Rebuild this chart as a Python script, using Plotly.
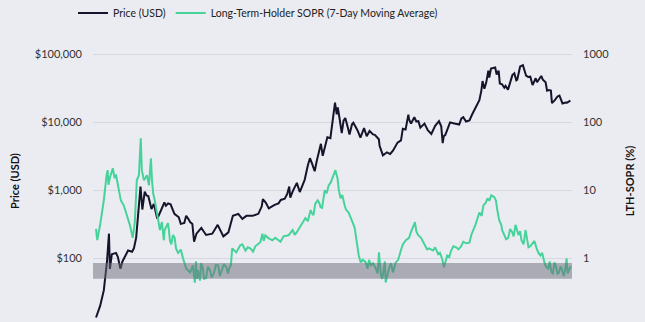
import plotly.graph_objects as go

# Bitcoin price (USD), grouped by year
price_dates = [
    "2013-01-01", "2013-02-01", "2013-03-01", "2013-03-25", "2013-04-09", "2013-04-16",
    "2013-05-01", "2013-06-01", "2013-06-15", "2013-07-05", "2013-07-20", "2013-08-01",
    "2013-09-01", "2013-10-01", "2013-10-15", "2013-11-01", "2013-11-10", "2013-11-18",
    "2013-12-04", "2013-12-18",
    "2014-01-05", "2014-01-20", "2014-02-01", "2014-02-25", "2014-03-15", "2014-04-10",
    "2014-04-25", "2014-05-01", "2014-06-03", "2014-06-15", "2014-07-01", "2014-07-20",
    "2014-08-18", "2014-09-20", "2014-10-05", "2014-11-01", "2014-11-15", "2014-12-01",
    "2014-12-15",
    "2015-01-01", "2015-01-14", "2015-02-01", "2015-03-10", "2015-04-15", "2015-06-01",
    "2015-07-12", "2015-08-24", "2015-10-01", "2015-11-04", "2015-12-15",
    "2016-01-15", "2016-02-15", "2016-04-01", "2016-05-15", "2016-06-10", "2016-06-18",
    "2016-07-10", "2016-08-02", "2016-09-15", "2016-10-15", "2016-11-01", "2016-12-01",
    "2016-12-20",
    "2017-01-04", "2017-01-12", "2017-02-01", "2017-03-03", "2017-03-25", "2017-04-15",
    "2017-05-01", "2017-05-25", "2017-06-10", "2017-06-25", "2017-07-16", "2017-08-01",
    "2017-08-20", "2017-09-01", "2017-09-15", "2017-10-01", "2017-10-20", "2017-11-12",
    "2017-11-28", "2017-12-08", "2017-12-17", "2017-12-30",
    "2018-01-07", "2018-01-20", "2018-02-06", "2018-02-20", "2018-03-05", "2018-03-25",
    "2018-04-06", "2018-04-25", "2018-05-05", "2018-06-05", "2018-06-28", "2018-07-25",
    "2018-08-01", "2018-08-14", "2018-09-05", "2018-10-01", "2018-10-15", "2018-11-14",
    "2018-11-20", "2018-12-15",
    "2019-01-15", "2019-02-08", "2019-03-01", "2019-04-05", "2019-05-01", "2019-05-15",
    "2019-06-05", "2019-06-26", "2019-07-01", "2019-07-16", "2019-08-10", "2019-08-25",
    "2019-09-10", "2019-09-25", "2019-10-26", "2019-11-20", "2019-12-17",
    "2020-01-15", "2020-02-13", "2020-03-01", "2020-03-12", "2020-03-20", "2020-04-01",
    "2020-05-07", "2020-06-01", "2020-06-15", "2020-07-15", "2020-08-01", "2020-08-15",
    "2020-09-05", "2020-10-01", "2020-10-20", "2020-11-15", "2020-11-25", "2020-12-15",
    "2020-12-30",
    "2021-01-08", "2021-01-22", "2021-02-05", "2021-02-21", "2021-02-28", "2021-03-13",
    "2021-04-14", "2021-04-25", "2021-05-10", "2021-05-19", "2021-06-05", "2021-06-22",
    "2021-07-01", "2021-07-20", "2021-08-05", "2021-08-22", "2021-09-06", "2021-09-21",
    "2021-09-28", "2021-10-05", "2021-10-20", "2021-11-10", "2021-11-25", "2021-12-04",
    "2021-12-20",
    "2022-01-05", "2022-01-22", "2022-02-15", "2022-02-25", "2022-03-29", "2022-04-10",
    "2022-05-01", "2022-05-12", "2022-05-25", "2022-06-10", "2022-06-18", "2022-07-10",
    "2022-07-30", "2022-08-14", "2022-08-25", "2022-09-06", "2022-09-30", "2022-10-10",
    "2022-11-05",
]
price_usd = [
    13.5, 20, 34, 90, 230, 70,
    115, 120, 105, 70, 90, 100,
    130, 125, 140, 200, 320, 500,
    1130, 520,
    950, 830, 820, 530, 630, 380,
    440, 450, 660, 590, 640, 620,
    450, 400, 320, 330, 420, 380,
    340,
    320, 175, 230, 280, 220, 230,
    310, 210, 240, 420, 450,
    380, 420, 420, 450, 580, 740,
    660, 540, 610, 640, 720, 750,
    880,
    1130, 780, 980, 1280, 940, 1180,
    1420, 2300, 2950, 2500, 1900, 2700,
    4100, 4800, 3200, 4300, 6000, 5800,
    9800, 15000, 19300, 13000,
    16500, 11500, 6900, 10500, 11500, 8200,
    6600, 9300, 9800, 7600, 5900, 8200,
    7600, 6200, 7400, 6600, 6500, 5600,
    4500, 3250,
    3600, 3400, 3800, 5000, 5400, 8000,
    7800, 12900, 11000, 9500, 11800, 10200,
    10300, 8300, 9500, 7600, 6700,
    8800, 10300, 8700, 4900, 6200, 6500,
    9900, 9600, 9400, 9200, 11300, 11800,
    10200, 10600, 12800, 16000, 18000, 21000,
    29000,
    40000, 31000, 38000, 57000, 45000, 61000,
    63500, 50000, 57000, 37000, 36000, 32000,
    34000, 30000, 39500, 49000, 52000, 41000,
    42000, 50000, 65500, 68500, 57000, 48000,
    46000,
    46500, 35000, 44000, 38500, 47500, 42000,
    38500, 29000, 29500, 29000, 19000, 21000,
    23800, 24500, 21500, 18800, 19400, 19300,
    20600,
]

# Long-term-holder SOPR, 7-day moving average, grouped by year
sopr_dates = [
    "2013-01-01", "2013-01-10", "2013-02-01", "2013-03-01", "2013-03-22", "2013-03-30",
    "2013-04-05", "2013-04-15", "2013-05-08", "2013-05-22", "2013-06-01", "2013-06-15",
    "2013-06-25", "2013-07-08", "2013-07-30", "2013-08-22", "2013-09-14", "2013-10-06",
    "2013-10-22", "2013-11-06", "2013-11-22", "2013-12-06", "2013-12-14", "2013-12-30",
    "2014-01-22", "2014-02-06", "2014-02-21", "2014-03-01", "2014-03-10", "2014-03-22",
    "2014-04-05", "2014-04-15", "2014-04-30", "2014-05-15", "2014-05-30", "2014-06-05",
    "2014-06-22", "2014-07-01", "2014-07-15", "2014-07-25", "2014-08-07", "2014-08-20",
    "2014-08-30", "2014-09-15", "2014-09-30", "2014-10-05", "2014-10-22", "2014-11-15",
    "2014-12-15",
    "2015-01-05", "2015-01-12", "2015-01-20", "2015-01-28", "2015-02-05", "2015-02-12",
    "2015-02-28", "2015-03-08", "2015-03-22", "2015-03-30", "2015-04-15", "2015-04-28",
    "2015-05-15", "2015-05-28", "2015-06-15", "2015-06-28", "2015-07-15", "2015-07-28",
    "2015-08-15", "2015-08-28", "2015-09-15", "2015-09-28", "2015-10-07", "2015-10-20",
    "2015-10-30", "2015-11-30", "2015-12-30",
    "2016-01-15", "2016-02-07", "2016-02-25", "2016-03-15", "2016-04-05", "2016-04-22",
    "2016-05-10", "2016-05-30", "2016-06-15", "2016-06-25", "2016-07-07", "2016-07-30",
    "2016-08-30", "2016-09-20", "2016-10-15", "2016-10-30", "2016-11-22", "2016-12-30",
    "2017-01-30", "2017-02-15", "2017-03-01", "2017-03-30", "2017-04-15", "2017-05-07",
    "2017-05-25", "2017-06-15", "2017-06-25", "2017-07-07", "2017-07-20", "2017-08-07",
    "2017-08-20", "2017-08-30", "2017-09-10", "2017-09-30", "2017-10-15", "2017-10-30",
    "2017-11-15", "2017-11-30", "2017-12-20",
    "2018-01-05", "2018-01-15", "2018-01-28", "2018-02-10", "2018-02-28", "2018-03-10",
    "2018-03-30", "2018-04-10", "2018-04-22", "2018-05-01", "2018-05-15", "2018-05-25",
    "2018-06-07", "2018-06-15", "2018-06-30", "2018-07-15", "2018-08-07", "2018-08-20",
    "2018-09-01", "2018-09-15", "2018-10-01", "2018-10-22", "2018-11-05", "2018-11-15",
    "2018-11-20", "2018-11-30", "2018-12-10", "2018-12-22", "2018-12-30",
    "2019-01-05", "2019-01-20", "2019-01-30", "2019-02-15", "2019-03-01", "2019-03-22",
    "2019-04-10", "2019-04-30", "2019-05-15", "2019-06-07", "2019-07-01", "2019-07-15",
    "2019-07-30", "2019-08-15", "2019-08-25", "2019-09-07", "2019-09-30", "2019-10-15",
    "2019-10-30", "2019-11-15", "2019-11-30", "2019-12-30",
    "2020-01-15", "2020-02-07", "2020-02-20", "2020-03-07", "2020-03-22", "2020-04-15",
    "2020-05-01", "2020-05-15", "2020-06-01", "2020-06-22", "2020-07-10", "2020-07-30",
    "2020-08-15", "2020-09-07", "2020-10-01", "2020-10-15", "2020-11-15", "2020-12-15",
    "2021-01-01", "2021-01-15", "2021-02-01", "2021-02-15", "2021-03-01", "2021-03-15",
    "2021-04-07", "2021-04-20", "2021-04-30", "2021-05-15", "2021-05-30", "2021-06-05",
    "2021-06-22", "2021-07-05", "2021-07-22", "2021-08-05", "2021-08-22", "2021-09-01",
    "2021-09-15", "2021-10-07", "2021-10-20", "2021-10-30", "2021-11-15", "2021-11-30",
    "2021-12-10", "2021-12-22",
    "2022-01-05", "2022-01-22", "2022-02-05", "2022-02-22", "2022-03-08", "2022-03-22",
    "2022-04-05", "2022-04-22", "2022-05-05", "2022-05-22", "2022-06-01", "2022-06-15",
    "2022-06-25", "2022-07-07", "2022-07-20", "2022-07-30", "2022-08-10", "2022-08-22",
    "2022-09-01", "2022-09-15", "2022-09-25", "2022-10-07", "2022-10-15", "2022-10-22",
    "2022-11-07",
]
lth_sopr = [
    2.7, 1.85, 3.1, 7.1, 16.6, 19.7,
    12, 15, 21, 15, 17, 11.8,
    9, 7.1, 6.0, 4.3, 3.1, 2.0,
    3.4, 14, 16.6, 58, 19.7, 14,
    16.6, 11.8, 29.5, 14, 9, 7.1,
    5, 3.6, 2.6, 3.4, 1.84, 2.6,
    3.1, 3.3, 1.84, 1.6, 2.2, 2.0,
    1.4, 1.2, 1.3, 1.35, 1.0, 0.71,
    0.62,
    0.79, 0.58, 0.44, 0.9, 0.5, 0.67,
    0.47, 0.85, 0.71, 0.5, 0.51, 0.75,
    0.67, 0.52, 0.62, 0.8, 0.79, 0.55,
    0.67, 0.82, 0.74, 0.6, 0.71, 0.8,
    1.4, 1.22, 1.55,
    1.6, 1.3, 1.45, 1.4, 1.25, 1.5,
    1.6, 1.72, 2.3, 1.8, 2.18, 1.98,
    1.84, 2.0, 1.84, 1.75, 2.1, 2.18,
    2.6, 2.2, 2.4, 2.95, 3.2, 3.9,
    3.5, 5.1, 4.6, 4.3, 6.3, 7.1,
    6.5, 5.6, 5.5, 10, 9, 11.8,
    13, 16, 19.7,
    15, 10, 7.6, 8.5, 6.0, 5.2,
    4.7, 4.2, 3.8, 3.3, 2.8, 1.9,
    1.4, 1.1, 0.87, 0.95, 0.87, 0.7,
    0.95, 0.79, 0.85, 0.71, 0.6, 1.22,
    1.0, 0.56, 0.5, 0.79, 0.9,
    0.44, 0.6, 0.71, 0.85, 0.62, 0.87,
    0.95, 1.3, 1.6, 1.84, 2.0, 2.4,
    2.8, 3.4, 2.5, 2.2, 2.0, 1.75,
    1.55, 1.35, 1.4, 1.3,
    1.45, 1.15, 1.2, 1.0, 0.74, 1.1,
    1.05, 1.3, 1.5, 1.45, 1.35, 1.5,
    1.75, 1.66, 1.7, 2.2, 3.1, 4.7,
    4.2, 6.0, 6.5, 7.6, 7.0, 8.4,
    7.9, 7.0, 5.1, 3.6, 3.1, 2.6,
    2.2, 1.9, 2.0, 2.7, 2.4, 2.1,
    3.1, 2.2, 2.5, 1.84, 1.6, 2.6,
    2.0, 1.45,
    1.5, 1.66, 1.8, 1.4, 1.2, 1.1,
    1.2, 0.87, 0.75, 0.71, 0.9, 0.62,
    0.6, 0.87, 0.75, 0.58, 0.62, 0.76,
    0.7, 0.55, 0.66, 1.0, 0.6, 0.65,
    0.76,
]

price_ticks = [10, 100, 1000, 10000, 100000]
price_tick_text = ["$10", "$100", "$1,000", "$10,000", "$100,000"]
sopr_ticks = [1, 10, 100, 1000]
sopr_tick_text = ["1", "10", "100", "1000"]
capitulation_zone = (0.5, 0.85)

BG = "#ebecf1"
FONT = "Lato, 'Open Sans', sans-serif"

fig = go.Figure()
fig.add_trace(go.Scatter(
    x=price_dates, y=price_usd, name="Price (USD)", mode="lines",
    line=dict(color="#14142b", width=2), yaxis="y",
))
fig.add_trace(go.Scatter(
    x=sopr_dates, y=lth_sopr, name="Long-Term-Holder SOPR (7-Day Moving Average)",
    mode="lines", line=dict(color="#46d39a", width=2), yaxis="y2",
))

# Grey band marking the sub-1 capitulation zone, laid over the lines
fig.add_shape(
    type="rect", xref="paper", x0=0, x1=1, yref="y2",
    y0=capitulation_zone[0], y1=capitulation_zone[1],
    fillcolor="rgba(105,105,120,0.5)", line=dict(width=0), layer="above",
)

fig.update_layout(
    width=645, height=322,
    margin=dict(l=93, r=73, t=40, b=0),
    paper_bgcolor=BG, plot_bgcolor=BG,
    font=dict(family=FONT, size=11, color="#333333"),
    showlegend=True,
    legend=dict(
        orientation="h", xref="container", yref="container",
        x=0.40, xanchor="center", y=0.96, yanchor="middle",
        font=dict(size=10.5, color="#222222"), bgcolor="rgba(0,0,0,0)",
        itemwidth=30,
    ),
    xaxis=dict(
        range=["2012-12-09", "2022-11-17"], visible=False, showgrid=False,
    ),
    yaxis=dict(
        type="log", range=[1.0646, 5.2056],
        tickvals=price_ticks, ticktext=price_tick_text,
        showgrid=True, gridcolor="#d6d7e2", gridwidth=1, zeroline=False,
        ticks="", ticklabelstandoff=10,
        title=dict(text="<b>Price (USD)</b>", font=dict(size=11, color="#111111"), standoff=12),
    ),
    yaxis2=dict(
        type="log", range=[-0.9354, 3.2056], overlaying="y", side="right",
        tickvals=sopr_ticks, ticktext=sopr_tick_text,
        showgrid=False, zeroline=False, ticks="", ticklabelstandoff=10,
        title=dict(text="<b>LTH-SOPR (%)</b>", font=dict(size=11, color="#111111"), standoff=18),
    ),
)

fig.write_html("out.html")
